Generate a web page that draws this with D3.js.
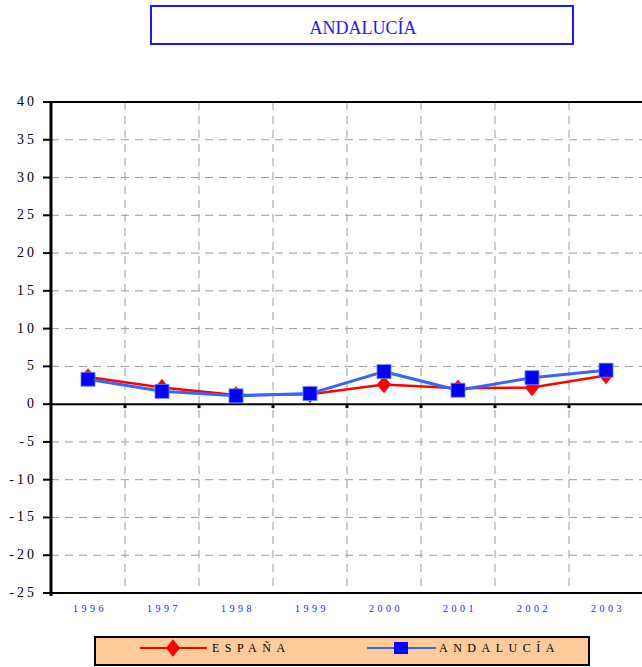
<!DOCTYPE html>
<html>
<head>
<meta charset="utf-8">
<script src="https://cdn.jsdelivr.net/npm/d3@7"></script>
<style>
  body { margin: 0; background: #fff; }
  svg { display: block; font-family: "Liberation Serif", "Times New Roman", serif; }
</style>
</head>
<body>
<svg id="chart" width="642" height="667"></svg>
<script>
// data
const years = ["1996", "1997", "1998", "1999", "2000", "2001", "2002", "2003"];
const espana = [3.6, 2.2, 1.2, 1.3, 2.6, 2.1, 2.2, 3.8];
const andalucia = [3.3, 1.7, 1.1, 1.4, 4.3, 1.85, 3.5, 4.5];
const yTicks = [40, 35, 30, 25, 20, 15, 10, 5, 0, -5, -10, -15, -20, -25];

const svg = d3.select("#chart");
const margin = { left: 51, right: -1, top: 102, bottom: 74 };
const width = 642 - margin.left - margin.right;
const height = 667 - margin.top - margin.bottom;

const x = d3.scaleBand().domain(years).range([0, width]);
const y = d3.scaleLinear().domain([-25, 40]).range([height, 0]);

// title box
svg.append("rect")
    .attr("x", 151).attr("y", 6)
    .attr("width", 422).attr("height", 38)
    .attr("fill", "#fff")
    .attr("stroke", "#1a1aff")
    .attr("stroke-width", 2);
svg.append("text")
    .attr("x", 363).attr("y", 34)
    .attr("text-anchor", "middle")
    .attr("fill", "#1a1aff")
    .attr("font-size", 18)
    .text("ANDALUCÍA");

const g = svg.append("g").attr("transform", `translate(${margin.left},${margin.top})`);

// horizontal grid
g.selectAll("line.hgrid")
    .data(yTicks.filter(d => d !== 40 && d !== 0 && d !== -25))
    .join("line")
    .attr("class", "hgrid")
    .attr("x1", 0).attr("x2", width)
    .attr("y1", d => y(d)).attr("y2", d => y(d))
    .attr("stroke", "#999")
    .attr("stroke-dasharray", "8,6");

// vertical grid at category boundaries
g.selectAll("line.vgrid")
    .data(years.slice(1))
    .join("line")
    .attr("class", "vgrid")
    .attr("x1", d => x(d)).attr("x2", d => x(d))
    .attr("y1", 0).attr("y2", height)
    .attr("stroke", "#999")
    .attr("stroke-dasharray", "8,6");

// top border
g.append("line")
    .attr("x1", 0).attr("x2", width)
    .attr("y1", 0).attr("y2", 0)
    .attr("stroke", "#000").attr("stroke-width", 2);

// zero line with tick marks
g.append("line")
    .attr("x1", 0).attr("x2", width)
    .attr("y1", y(0)).attr("y2", y(0))
    .attr("stroke", "#000").attr("stroke-width", 2);
g.selectAll("rect.zt")
    .data(years.slice(1))
    .join("rect")
    .attr("class", "zt")
    .attr("x", d => x(d) - 1.5)
    .attr("y", y(0))
    .attr("width", 3).attr("height", 4)
    .attr("fill", "#000");

// bottom line
g.append("line")
    .attr("x1", 0).attr("x2", width)
    .attr("y1", height).attr("y2", height)
    .attr("stroke", "#000").attr("stroke-width", 2);

// left axis
g.append("line")
    .attr("x1", 0).attr("x2", 0)
    .attr("y1", -1).attr("y2", height + 3)
    .attr("stroke", "#000").attr("stroke-width", 3);
g.selectAll("line.ytick")
    .data(yTicks)
    .join("line")
    .attr("class", "ytick")
    .attr("x1", -8).attr("x2", 0)
    .attr("y1", d => y(d)).attr("y2", d => y(d))
    .attr("stroke", "#000").attr("stroke-width", 2);
g.selectAll("text.ylab")
    .data(yTicks)
    .join("text")
    .attr("class", "ylab")
    .attr("x", -14)
    .attr("y", d => y(d) + 4)
    .attr("text-anchor", "end")
    .attr("font-size", 14)
    .attr("letter-spacing", 3)
    .attr("fill", "#000")
    .text(d => String(d));

// x labels
g.selectAll("text.xlab")
    .data(years)
    .join("text")
    .attr("class", "xlab")
    .attr("x", d => x(d) + x.bandwidth() / 2 + 2)
    .attr("y", height + 19)
    .attr("text-anchor", "middle")
    .attr("font-size", 10)
    .attr("letter-spacing", 3.5)
    .attr("fill", "#1a1aff")
    .text(d => d);

const cx = d => x(d) + x.bandwidth() / 2;
const line = d3.line().x((d, i) => cx(years[i])).y(d => y(d));

// España series
g.append("path")
    .datum(espana)
    .attr("d", line)
    .attr("fill", "none")
    .attr("stroke", "#ff0000")
    .attr("stroke-width", 2.5);
const diamond = d3.symbol().type(d3.symbolDiamond).size(90);
g.selectAll("path.esp")
    .data(espana)
    .join("path")
    .attr("class", "esp")
    .attr("d", diamond)
    .attr("transform", (d, i) => `translate(${cx(years[i])},${y(d)}) scale(1.4,1)`)
    .attr("fill", "#ff0000");

// Andalucía series
g.append("path")
    .datum(andalucia)
    .attr("d", line)
    .attr("fill", "none")
    .attr("stroke", "#3366ff")
    .attr("stroke-width", 3);
g.selectAll("rect.and")
    .data(andalucia)
    .join("rect")
    .attr("class", "and")
    .attr("x", (d, i) => cx(years[i]) - 7)
    .attr("y", d => y(d) - 7)
    .attr("width", 14).attr("height", 14)
    .attr("fill", "#0000ff")
    .attr("stroke", "#6688ff")
    .attr("stroke-width", 0.8);

// legend
const lg = svg.append("g");
lg.append("rect")
    .attr("x", 95).attr("y", 637)
    .attr("width", 494).attr("height", 28)
    .attr("fill", "#ffcc99")
    .attr("stroke", "#000")
    .attr("stroke-width", 2);
lg.append("line")
    .attr("x1", 140).attr("x2", 207).attr("y1", 648).attr("y2", 648)
    .attr("stroke", "#ff0000").attr("stroke-width", 2);
lg.append("path")
    .attr("d", diamond)
    .attr("transform", "translate(173,648) scale(1.4,1)")
    .attr("fill", "#ff0000");
lg.append("text")
    .attr("x", 212).attr("y", 652)
    .attr("font-size", 12)
    .attr("letter-spacing", 5.5)
    .text("ESPAÑA");
lg.append("line")
    .attr("x1", 367).attr("x2", 436).attr("y1", 648).attr("y2", 648)
    .attr("stroke", "#3366ff").attr("stroke-width", 2);
lg.append("rect")
    .attr("x", 394).attr("y", 642)
    .attr("width", 14).attr("height", 12)
    .attr("fill", "#0000ff");
lg.append("text")
    .attr("x", 439).attr("y", 652)
    .attr("font-size", 12)
    .attr("letter-spacing", 5.5)
    .text("ANDALUCÍA");
</script>
</body>
</html>
